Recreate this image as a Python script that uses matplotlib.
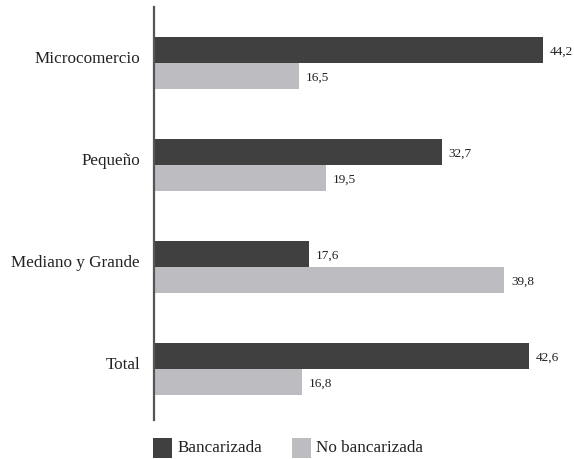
import matplotlib
matplotlib.use("Agg")
import matplotlib.pyplot as plt
import numpy as np
from matplotlib.patches import Rectangle

categories = ["Microcomercio", "Pequeño", "Mediano y Grande", "Total"]
bancarizada = [44.2, 32.7, 17.6, 42.6]
no_bancarizada = [16.5, 19.5, 39.8, 16.8]
series_names = ["Bancarizada", "No bancarizada"]

dark = "#404040"
light = "#bdbdc1"
text_color = "#222222"

plt.rcParams["font.family"] = ["Liberation Serif", "DejaVu Serif"]

W, H = 574, 459
fig = plt.figure(figsize=(W / 100, H / 100), dpi=100)
left, right, top, bottom = 154, 560, 7, 420
ax = fig.add_axes([left / W, 1 - bottom / H, (right - left) / W, (bottom - top) / H])

px_per_unit = 8.8
ax.set_xlim(0, (right - left) / px_per_unit)
group_px = 102.0
ax.set_ylim(3 + (bottom - 369) / group_px, -(63 - top) / group_px)

y = np.arange(len(categories))
h = 26 / group_px
ax.barh(y - h / 2, bancarizada, height=h, color=dark, edgecolor="none")
ax.barh(y + h / 2, no_bancarizada, height=h, color=light, edgecolor="none")

def fmt(v):
    return f"{v:.1f}".replace(".", ",")

off = 7 / px_per_unit
nudge = 2 / group_px
for i in range(len(categories)):
    ax.text(bancarizada[i] + off, y[i] - h / 2 + nudge, fmt(bancarizada[i]),
            va="center", ha="left", fontsize=9.5, color=text_color)
    ax.text(no_bancarizada[i] + off, y[i] + h / 2 + nudge, fmt(no_bancarizada[i]),
            va="center", ha="left", fontsize=9.5, color=text_color)

# category labels, right-aligned just left of the axis line
for i, cat in enumerate(categories):
    ax.annotate(cat, xy=(0, y[i]), xytext=(-14, 4), textcoords="offset pixels",
                ha="right", va="center", fontsize=12.3, color=text_color)
ax.set_yticks([])
ax.set_xticks([])
for s in ["top", "right", "bottom"]:
    ax.spines[s].set_visible(False)
ax.spines["left"].set_color("#555555")
ax.spines["left"].set_linewidth(1.6)

# legend at the bottom
to_fig = lambda px, py: (px / W, 1 - py / H)
for (x0, tx), color, name in zip([(153, 178), (292, 316)], [dark, light], series_names):
    fx, fy = to_fig(x0, 458)
    fig.add_artist(Rectangle((fx, fy), 19 / W, 20 / H, transform=fig.transFigure,
                             facecolor=color, edgecolor="none"))
    tfx, tfy = to_fig(tx, 448)
    fig.text(tfx, tfy, name, ha="left", va="center", fontsize=12.3, color=text_color)

fig.savefig("out.png", dpi=100, facecolor="white")
